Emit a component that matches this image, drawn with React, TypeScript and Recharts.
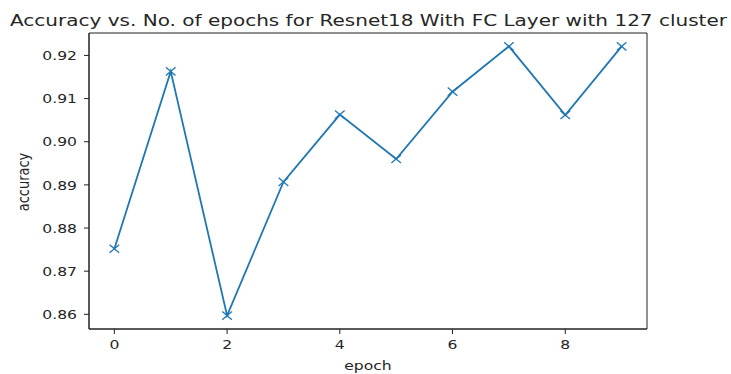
import React from 'react';
import { LineChart, Line, XAxis, YAxis, ReferenceArea } from 'recharts';

// Validation accuracy per training epoch
const epochs = [0, 1, 2, 3, 4, 5, 6, 7, 8, 9];
const accuracy = [0.8752, 0.9163, 0.8597, 0.8907, 0.9063, 0.896, 0.9116, 0.9221, 0.9062, 0.9221];
const xTicks = [0, 2, 4, 6, 8];
const yTicks = [0.86, 0.87, 0.88, 0.89, 0.9, 0.91, 0.92];
const X_DOMAIN: [number, number] = [-0.45, 9.45];
const Y_DOMAIN: [number, number] = [0.8566, 0.9252];

const data = epochs.map((e, i) => ({ epoch: e, accuracy: accuracy[i] }));

const FONT = '"DejaVu Sans", sans-serif';
const INK = '#222222';
const TEXT = '#262626';
const BLUE = '#1f77b4';
const SX = 1.2; // text is drawn slightly widened

const XMarker = (props: any) => {
  const { cx, cy, index } = props;
  if (cx == null || cy == null) return null;
  const rx = 4.8;
  const ry = 4.1;
  return (
    <path
      key={`m-${index}`}
      d={`M${cx - rx},${cy - ry}L${cx + rx},${cy + ry}M${cx - rx},${cy + ry}L${cx + rx},${cy - ry}`}
      stroke={BLUE}
      strokeWidth={1.3}
      fill="none"
    />
  );
};

const XTick = (props: any) => {
  const { x, y, payload } = props;
  return (
    <text
      transform={`translate(${x},${y + 15}) scale(${SX},1)`}
      textAnchor="middle"
      fontFamily={FONT}
      fontSize={13}
      fill={TEXT}
    >
      {String(payload.value)}
    </text>
  );
};

const YTick = (props: any) => {
  const { x, y, payload } = props;
  return (
    <text
      transform={`translate(${x},${y + 4.7}) scale(${SX},1)`}
      textAnchor="end"
      fontFamily={FONT}
      fontSize={13}
      fill={TEXT}
    >
      {Number(payload.value).toFixed(2)}
    </text>
  );
};

const XLabel = (props: any) => {
  const { viewBox } = props;
  const cx = viewBox.x + viewBox.width / 2;
  return (
    <text
      transform={`translate(${cx},${viewBox.y + 41}) scale(${SX},1)`}
      textAnchor="middle"
      fontFamily={FONT}
      fontSize={13}
      fill={TEXT}
    >
      epoch
    </text>
  );
};

const YLabel = (props: any) => {
  const { viewBox } = props;
  const cy = viewBox.y + viewBox.height / 2;
  return (
    <text
      transform={`translate(${viewBox.x + 28.5},${cy + 1}) scale(${SX},1) rotate(-90)`}
      textAnchor="middle"
      fontFamily={FONT}
      fontSize={13}
      fill={TEXT}
    >
      accuracy
    </text>
  );
};

export default function App() {
  return (
    <div style={{ position: 'absolute', left: 0, top: 0, width: 731, height: 374, background: '#fff' }}>
      <svg width={731} height={40} style={{ position: 'absolute', left: 0, top: 0 }}>
        <text
          x={10}
          y={26}
          textLength={717}
          lengthAdjust="spacingAndGlyphs"
          fontFamily={FONT}
          fontSize={15.6}
          fill={TEXT}
        >
          Accuracy vs. No. of epochs for Resnet18 With FC Layer with 127 cluster
        </text>
      </svg>
      <div style={{ position: 'absolute', left: 0, top: 0 }}>
        <LineChart width={731} height={374} data={data} margin={{ top: 33, right: 84, bottom: 0, left: 0 }}>
          <XAxis
            dataKey="epoch"
            type="number"
            domain={X_DOMAIN}
            ticks={xTicks}
            allowDataOverflow
            height={45}
            tick={XTick}
            tickLine={{ stroke: INK }}
            tickSize={5}
            tickMargin={0}
            axisLine={{ stroke: INK }}
            label={XLabel}
          />
          <YAxis
            type="number"
            domain={Y_DOMAIN}
            ticks={yTicks}
            allowDataOverflow
            width={89}
            tick={YTick}
            tickLine={{ stroke: INK }}
            tickSize={5}
            tickMargin={7}
            axisLine={{ stroke: INK }}
            label={YLabel}
          />
          <ReferenceArea
            x1={X_DOMAIN[0]}
            x2={X_DOMAIN[1]}
            y1={Y_DOMAIN[0]}
            y2={Y_DOMAIN[1]}
            fill="none"
            fillOpacity={0}
            stroke={INK}
            strokeWidth={1}
            ifOverflow="visible"
          />
          <Line
            dataKey="accuracy"
            stroke={BLUE}
            strokeWidth={1.8}
            dot={XMarker}
            activeDot={false}
            isAnimationActive={false}
          />
        </LineChart>
      </div>
    </div>
  );
}
